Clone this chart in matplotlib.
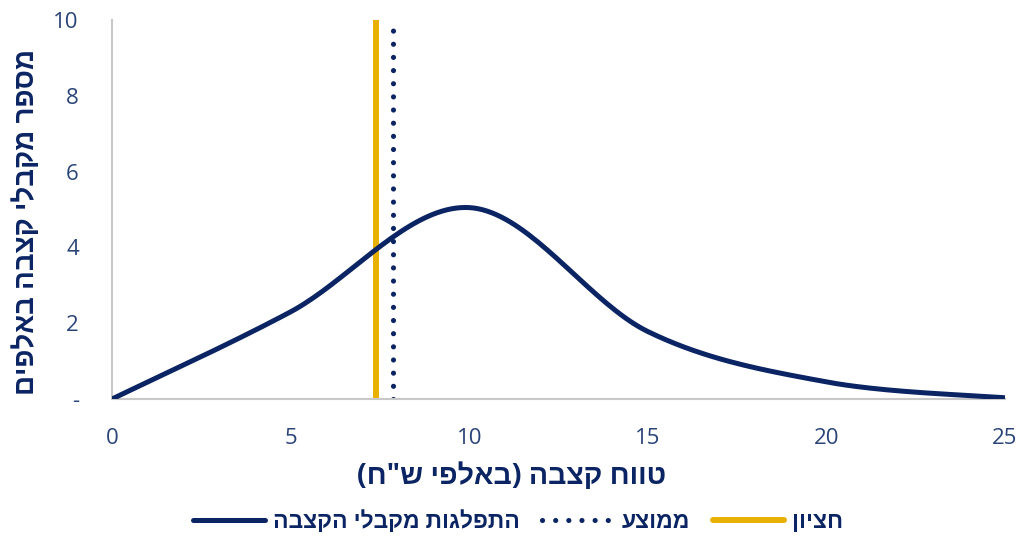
import numpy as np
import matplotlib
matplotlib.use("Agg")
import matplotlib.pyplot as plt
from matplotlib.lines import Line2D

# data (thousands)
x_points = [0, 5, 10, 15, 20, 25]
recipients = [0, 2.3, 5.05, 1.78, 0.45, 0.03]
median_value = 7.4
mean_value = 7.87
x_ticks = [0, 5, 10, 15, 20, 25]
y_ticks = [0, 2, 4, 6, 8, 10]
y_tick_labels = ["-", "2", "4", "6", "8", "10"]

NAVY = "#0b2463"
GOLD = "#e8b000"
TEXT = "#2a4478"

plt.rcParams['font.family'] = ['Open Sans', 'Liberation Sans', 'DejaVu Sans']


def heb(s):
    # matplotlib has no bidi: reverse to visual order, mirror parens
    s = s[::-1]
    return s.translate(str.maketrans("()", ")("))


def smooth(xs, ys, n=40):
    # catmull-rom like excel "smoothed line"
    xs = list(xs)
    ys = list(ys)
    px = [xs[0]] + xs + [xs[-1]]
    py = [ys[0]] + ys + [ys[-1]]
    out_x, out_y = [], []
    for i in range(1, len(px) - 2):
        t = np.linspace(0, 1, n)
        for p, out in ((px, out_x), (py, out_y)):
            p0, p1, p2, p3 = p[i - 1], p[i], p[i + 1], p[i + 2]
            m1 = (p2 - p0) / 2
            m2 = (p3 - p1) / 2
            h00 = 2 * t**3 - 3 * t**2 + 1
            h10 = t**3 - 2 * t**2 + t
            h01 = -2 * t**3 + 3 * t**2
            h11 = t**3 - t**2
            out.extend(h00 * p1 + h10 * m1 + h01 * p2 + h11 * m2)
    return np.array(out_x), np.array(out_y)


fig = plt.figure(figsize=(10.2, 5.42), dpi=100)
ax = fig.add_axes([0.110, 0.264, 0.875, 0.699])

dots = (0, (0.01, 2.55))

sx, sy = smooth(x_points, recipients)
ax.plot(sx, sy, color=NAVY, lw=3.6, solid_capstyle='round', zorder=3)
ax.plot([median_value, median_value], [0, 10], color=GOLD, lw=4.3, zorder=2)
ax.plot([mean_value, mean_value], [0, 10], color=NAVY, lw=3.7,
        linestyle=dots, dash_capstyle='round', zorder=2)

ax.set_xlim(0, 25)
ax.set_ylim(0, 10)
ax.set_xticks(x_ticks)
ax.set_yticks(y_ticks)
ax.set_yticklabels(y_tick_labels)
ax.tick_params(length=0, labelsize=16, colors=TEXT)
ax.tick_params(axis='y', pad=24)
ax.tick_params(axis='x', pad=21)

for side in ['top', 'right']:
    ax.spines[side].set_visible(False)
for side in ['left', 'bottom']:
    ax.spines[side].set_color('#c8c8c8')
    ax.spines[side].set_linewidth(1.5)

fig.text(0.502, 0.121, heb('טווח קצבה (באלפי ש"ח)'), ha='center', va='center',
         fontsize=20.5, fontweight='bold', color=NAVY)
fig.text(0.026, 0.59, heb('מספר מקבלי קצבה באלפים'), ha='center', va='center',
         rotation=90, fontsize=20, fontweight='bold', color=NAVY)

handles = [
    Line2D([], [], color=NAVY, lw=3.6, solid_capstyle='round'),
    Line2D([], [], color=NAVY, lw=3.7, linestyle=dots, dash_capstyle='round'),
    Line2D([], [], color=GOLD, lw=4.3, solid_capstyle='round'),
]
labels = [heb('התפלגות מקבלי הקצבה'), heb('ממוצע'), heb('חציון')]
leg = fig.legend(handles, labels, loc='center', bbox_to_anchor=(0.508, 0.036),
                 ncol=3, frameon=False, handlelength=3.1, columnspacing=1.0,
                 handletextpad=0.35,
                 prop={'size': 16.5, 'weight': 'bold'})
for t in leg.get_texts():
    t.set_color(NAVY)

fig.savefig("out.png", dpi=100)
